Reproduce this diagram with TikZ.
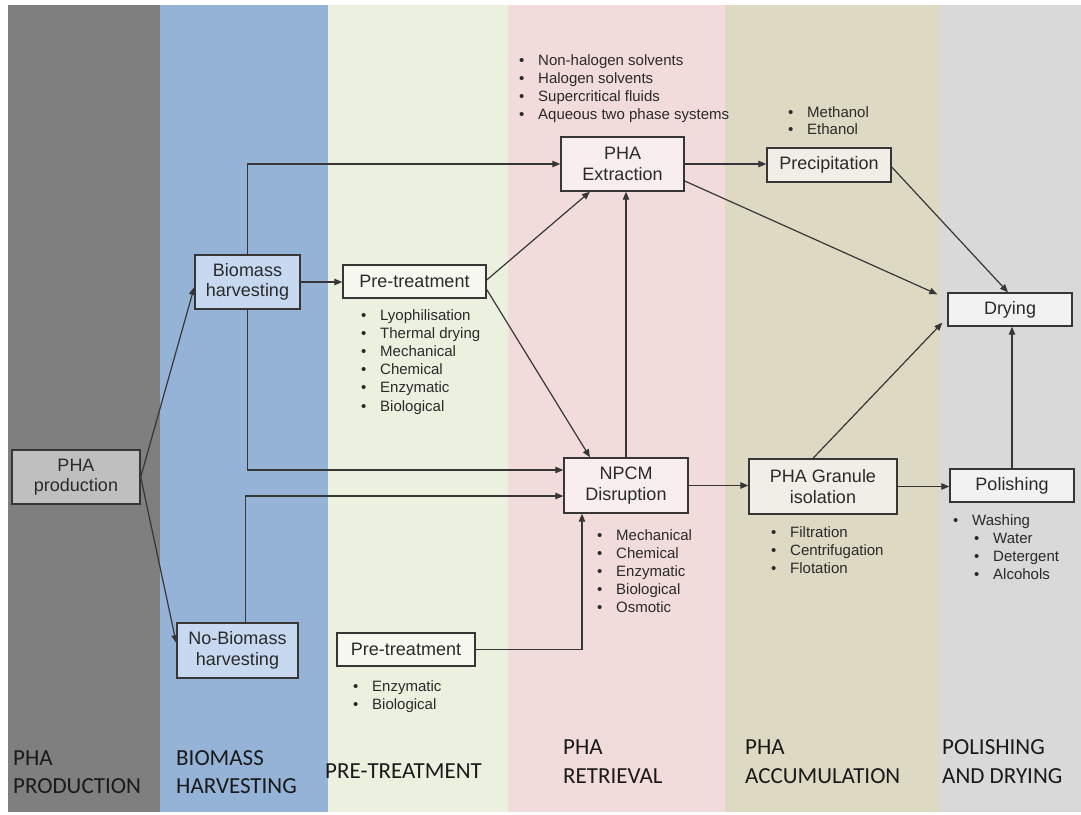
\documentclass[tikz,border=0pt]{standalone}
\usepackage{fontspec}
\setmainfont{Liberation Sans}
\newfontfamily\calfont{Carlito}
\usetikzlibrary{arrows.meta,calc}
\definecolor{sGray}{HTML}{7F7F7F}
\definecolor{sBlue}{HTML}{95B3D7}
\definecolor{sGreen}{HTML}{EBF1DE}
\definecolor{sPink}{HTML}{F2DCDB}
\definecolor{sTan}{HTML}{DDD9C3}
\definecolor{sLGray}{HTML}{D9D9D9}
\definecolor{fProd}{HTML}{BFBFBF}
\definecolor{fBlue}{HTML}{C6D9F1}
\definecolor{fGreen}{HTML}{F7F9F1}
\definecolor{fPink}{HTML}{F9EEEE}
\definecolor{fTan}{HTML}{F0EEE6}
\definecolor{fGray}{HTML}{F2F2F2}
\definecolor{boxline}{HTML}{363636}
\definecolor{arrline}{HTML}{363636}
\definecolor{txt}{HTML}{2A2A2A}
\definecolor{labtxt}{HTML}{1A1A1A}
\newcommand\bulist[5]{% name, text x, first baseline, spacing, items
  \foreach \t [count=\i] in {#5} {
    \node[bul] (#1\i) at ({#2-19}, {#3+(\i-1)*#4}) {\makebox[19pt][l]{•}\t};
  }}
\begin{document}
\begin{tikzpicture}[x=1pt,y=-1pt,
  box/.style={draw=boxline, line width=1.4pt, inner sep=0pt, align=center, text=txt,
    font=\fontsize{18}{20.5}\selectfont},
  arr/.style={draw=arrline, line width=1.2pt, -{Triangle[length=8pt,width=6.5pt]}},
  bul/.style={anchor=base west, inner sep=0pt, text=txt, font=\fontsize{15}{17}\selectfont},
  lab/.style={anchor=base west, inner sep=0pt, text=labtxt, font=\calfont\fontsize{23}{28}\selectfont}]
\useasboundingbox (0,0) rectangle (1081,814);
\fill[white] (0,0) rectangle (1081,814);
% strips
\fill[sGray]  (8,5)   rectangle (160,812);
\fill[sBlue]  (160,5) rectangle (328,812);
\fill[sGreen] (328,5) rectangle (508,812);
\fill[sPink]  (508,5) rectangle (725,812);
\fill[sTan]   (725,5) rectangle (940,812);
\fill[sLGray] (940,5) rectangle (1081,812);
% boxes
\node[box, fill=fProd, minimum width=128pt, minimum height=54pt] (prod) at (76,477) {PHA\\production};
\node[box, fill=fBlue, minimum width=105pt, minimum height=54pt] (bh) at (247.5,282) {Biomass\\harvesting};
\node[box, fill=fBlue, minimum width=121pt, minimum height=55pt] (nbh) at (237.5,650.5) {No-Biomass\\harvesting};
\node[box, fill=fGreen, minimum width=143pt, minimum height=33pt] (pt1) at (414.5,281.5) {Pre-treatment};
\node[box, fill=fGreen, minimum width=138pt, minimum height=33pt] (pt2) at (406,649.5) {Pre-treatment};
\node[box, fill=fPink, minimum width=123pt, minimum height=54pt] (ext) at (622.5,164) {PHA\\Extraction};
\node[box, fill=fPink, minimum width=124pt, minimum height=55pt] (npcm) at (626,485.5) {NPCM\\Disruption};
\node[box, fill=fTan, minimum width=124pt, minimum height=34pt] (prec) at (829,165) {Precipitation};
\node[box, fill=fTan, minimum width=148pt, minimum height=55pt] (gran) at (823,486.5) {PHA Granule\\isolation};
\node[box, fill=fGray, minimum width=124pt, minimum height=33pt] (dry) at (1010,309.5) {Drying};
\node[box, fill=fGray, minimum width=124pt, minimum height=33pt] (pol) at (1012,485.5) {Polishing};
% connectors
\draw[arr] (prod.east) -- ([yshift=-5pt]bh.west);
\draw[arr] (prod.east) -- ([yshift=7.5pt]nbh.west);
\draw[arr] (bh.east) -- (bh.east -| pt1.west);
\draw[arr] (bh.north) |- (ext.west);
\draw[arr] (bh.south) |- ([yshift=15.5pt]npcm.west);
\draw[arr] ([xshift=8pt]nbh.north) |- ([yshift=-10.5pt]npcm.west);
\draw[arr] ([yshift=1.5pt]pt1.east) -- ([xshift=-32.5pt]ext.south);
\draw[arr] ([yshift=-8pt]pt1.east) -- ([xshift=-36pt]npcm.north);
\draw[arr] (npcm.north) -- (npcm.north |- ext.south);
\draw[arr] (pt2.east) -| ([xshift=-44pt]npcm.south);
\draw[arr] (ext.east) -- (ext.east -| prec.west);
\draw[arr] ([yshift=-17pt]ext.east) -- ([shift={(-10pt,-2pt)}]dry.north west);
\draw[arr] ([yshift=-2pt]prec.east) -- ([xshift=-2pt]dry.north);
\draw[arr] (npcm.east) -- (npcm.east -| gran.west);
\draw[arr] ([xshift=-10pt]gran.north) -- ([shift={(-5pt,4pt)}]dry.south west);
\draw[arr] (gran.east) -- (gran.east -| pol.west);
\draw[arr] (pol.north) -- (pol.north |- dry.south);
% bullet lists
\bulist{le}{538}{65}{18}{Non-halogen solvents,Halogen solvents,Supercritical fluids,Aqueous two phase systems}
\bulist{lm}{807}{117}{17.5}{Methanol,Ethanol}
\bulist{lp}{380}{320}{18.2}{Lyophilisation,Thermal drying,Mechanical,Chemical,Enzymatic,Biological}
\bulist{ln}{616}{540}{18}{Mechanical,Chemical,Enzymatic,Biological,Osmotic}
\bulist{lg}{790}{537}{18}{Filtration,Centrifugation,Flotation}
\bulist{lw}{972}{525}{18}{Washing}
\bulist{ls}{993}{543.5}{18}{Water,Detergent,Alcohols}
\bulist{lb}{372}{691}{18}{Enzymatic,Biological}
% column labels
\node[lab] (c1a) at (13,765) {PHA};
\node[lab] (c1b) at (13,793) {PRODUCTION};
\node[lab] (c2a) at (176,765) {BIOMASS};
\node[lab] (c2b) at (176,793) {HARVESTING};
\node[lab] (c3a) at (325,778) {PRE-TREATMENT};
\node[lab] (c4a) at (563,754) {PHA};
\node[lab] (c4b) at (563,783) {RETRIEVAL};
\node[lab] (c5a) at (745,754) {PHA};
\node[lab] (c5b) at (745,783) {ACCUMULATION};
\node[lab] (c6a) at (942,754) {POLISHING};
\node[lab] (c6b) at (942,783) {AND DRYING};
\end{tikzpicture}
\end{document}
